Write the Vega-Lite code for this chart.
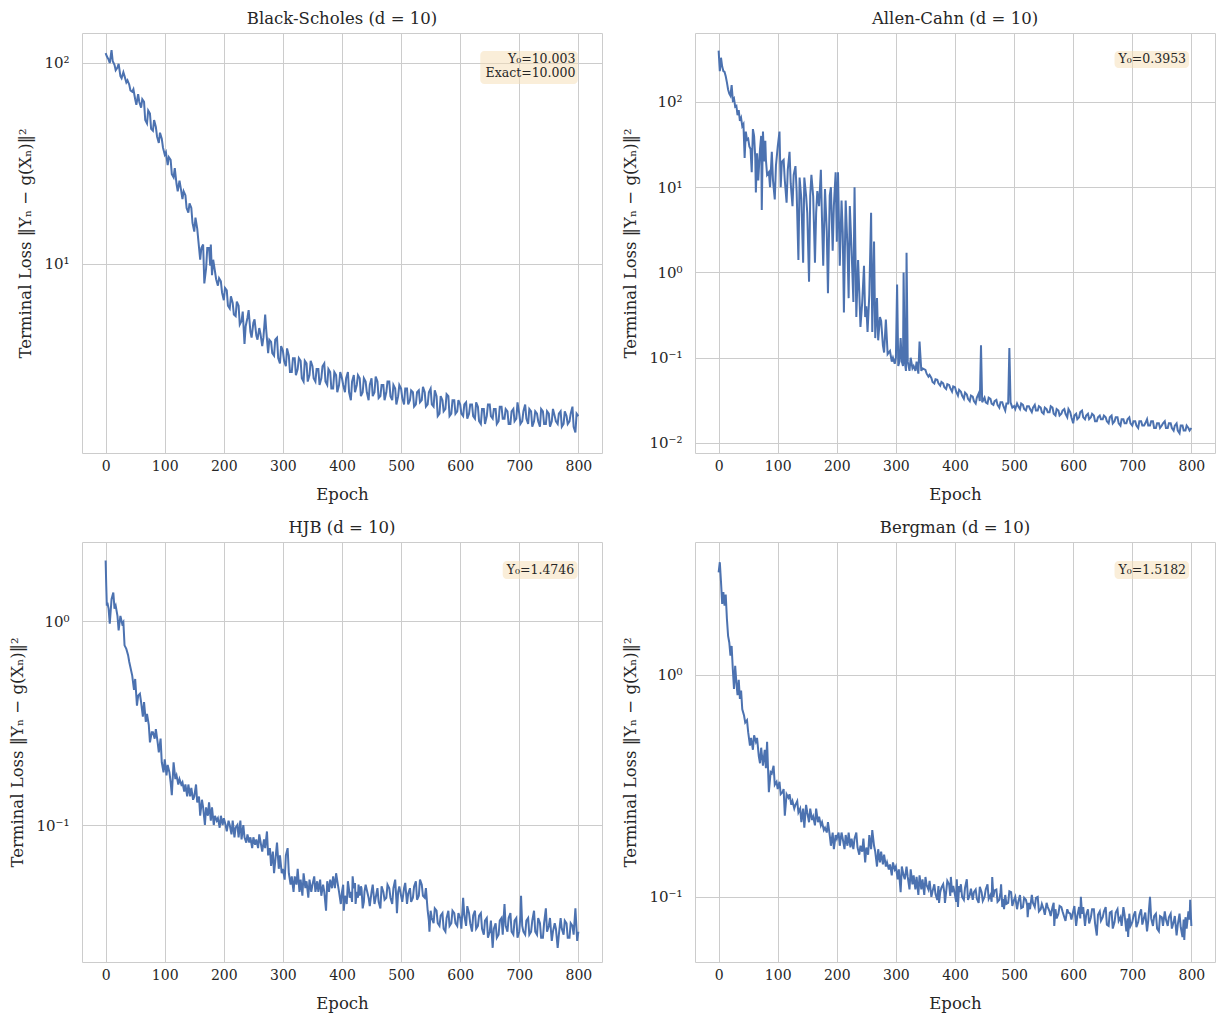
{
"$schema": "https://vega.github.io/schema/vega-lite/v6.json",
"background": "white",
"padding": {"left": 9, "top": 10, "right": 5, "bottom": 5},
"config": {
  "font": "DejaVu Serif",
  "view": {"stroke": "#cccccc", "strokeWidth": 1},
  "axis": {"domain": false, "ticks": false, "grid": true, "gridColor": "#cccccc", "gridWidth": 1, "labelFont": "DejaVu Serif", "labelFontSize": 14, "labelColor": "#262626", "titleFont": "DejaVu Serif", "titleFontSize": 16.5, "titleFontWeight": "normal", "titleColor": "#262626"},
  "axisX": {"labelPadding": 6, "titlePadding": 13},
  "axisY": {"labelPadding": 13, "titlePadding": 10, "labelFontSize": 15},
  "title": {"font": "DejaVu Serif", "fontSize": 16.5, "fontWeight": "normal", "color": "#262626", "offset": 6}
},
"spacing": {"row": 16, "column": 19},
"columns": 2,
"datasets": {
"bs": [{"e":0,"v":112},{"e":5,"v":104},{"e":10,"v":116},{"e":15,"v":98},{"e":20,"v":95},{"e":25,"v":86},{"e":30,"v":90},{"e":35,"v":80},{"e":40,"v":78},{"e":45,"v":72},{"e":50,"v":66},{"e":55,"v":70},{"e":60,"v":60},{"e":65,"v":64},{"e":70,"v":50},{"e":75,"v":56},{"e":80,"v":46},{"e":85,"v":48},{"e":90,"v":40},{"e":95,"v":42},{"e":100,"v":35},{"e":105,"v":31},{"e":110,"v":33},{"e":115,"v":27},{"e":120,"v":25},{"e":125,"v":26},{"e":130,"v":21},{"e":135,"v":22},{"e":140,"v":18},{"e":145,"v":19},{"e":150,"v":14.5},{"e":155,"v":15},{"e":160,"v":10.5},{"e":165,"v":12.5},{"e":170,"v":9.5},{"e":175,"v":12},{"e":180,"v":8.8},{"e":185,"v":9.2},{"e":190,"v":7.8},{"e":195,"v":8.2},{"e":200,"v":6.6},{"e":205,"v":7.4},{"e":210,"v":6.0},{"e":215,"v":6.4},{"e":220,"v":5.5},{"e":225,"v":6.2},{"e":230,"v":5.2},{"e":235,"v":4.0},{"e":240,"v":5.4},{"e":245,"v":4.6},{"e":250,"v":5.1},{"e":255,"v":4.4},{"e":260,"v":4.8},{"e":265,"v":3.9},{"e":270,"v":5.6},{"e":275,"v":3.6},{"e":280,"v":4.1},{"e":285,"v":3.5},{"e":290,"v":4.3},{"e":295,"v":3.2},{"e":300,"v":3.7},{"e":305,"v":3.1},{"e":310,"v":3.5},{"e":315,"v":2.9},{"e":320,"v":3.4},{"e":325,"v":3.0},{"e":330,"v":3.3},{"e":335,"v":2.6},{"e":340,"v":3.2},{"e":345,"v":2.8},{"e":350,"v":3.1},{"e":355,"v":2.6},{"e":360,"v":3.0},{"e":365,"v":2.7},{"e":370,"v":3.2},{"e":375,"v":2.5},{"e":380,"v":2.9},{"e":385,"v":2.4},{"e":390,"v":2.8},{"e":395,"v":2.5},{"e":400,"v":2.7},{"e":405,"v":2.3},{"e":410,"v":2.9},{"e":415,"v":2.1},{"e":420,"v":2.8},{"e":425,"v":2.5},{"e":430,"v":2.7},{"e":435,"v":2.3},{"e":440,"v":2.6},{"e":445,"v":2.1},{"e":450,"v":2.7},{"e":455,"v":2.3},{"e":460,"v":2.6},{"e":465,"v":2.2},{"e":470,"v":2.5},{"e":475,"v":2.3},{"e":480,"v":2.6},{"e":485,"v":2.1},{"e":490,"v":2.4},{"e":495,"v":2.2},{"e":500,"v":2.4},{"e":505,"v":2.0},{"e":510,"v":2.4},{"e":515,"v":2.1},{"e":520,"v":2.3},{"e":525,"v":2.0},{"e":530,"v":2.35},{"e":535,"v":2.1},{"e":540,"v":2.3},{"e":545,"v":2.0},{"e":550,"v":2.4},{"e":555,"v":1.95},{"e":560,"v":2.2},{"e":565,"v":1.8},{"e":570,"v":2.1},{"e":575,"v":1.9},{"e":580,"v":2.2},{"e":585,"v":1.8},{"e":590,"v":2.1},{"e":595,"v":1.85},{"e":600,"v":2.0},{"e":605,"v":1.75},{"e":610,"v":2.05},{"e":615,"v":1.8},{"e":620,"v":2.0},{"e":625,"v":1.7},{"e":630,"v":1.95},{"e":635,"v":1.6},{"e":640,"v":1.9},{"e":645,"v":1.75},{"e":650,"v":2.0},{"e":655,"v":1.7},{"e":660,"v":1.9},{"e":665,"v":1.65},{"e":670,"v":1.95},{"e":675,"v":1.7},{"e":680,"v":1.85},{"e":685,"v":1.6},{"e":690,"v":1.9},{"e":695,"v":1.7},{"e":700,"v":1.8},{"e":705,"v":1.65},{"e":710,"v":2.0},{"e":715,"v":1.6},{"e":720,"v":1.85},{"e":725,"v":1.65},{"e":730,"v":1.8},{"e":735,"v":1.55},{"e":740,"v":1.85},{"e":745,"v":1.6},{"e":750,"v":1.8},{"e":755,"v":1.65},{"e":760,"v":1.75},{"e":765,"v":1.6},{"e":770,"v":1.85},{"e":775,"v":1.6},{"e":780,"v":1.75},{"e":785,"v":1.65},{"e":790,"v":1.95},{"e":795,"v":1.45},{"e":800,"v":1.75},
{"e":2,"v":108},{"e":7,"v":100},{"e":12,"v":102},{"e":17,"v":92},{"e":22,"v":99},{"e":27,"v":84},{"e":32,"v":86},{"e":37,"v":82},{"e":42,"v":73},{"e":47,"v":74},{"e":52,"v":62},{"e":57,"v":64},{"e":62,"v":66},{"e":67,"v":52},{"e":72,"v":58},{"e":77,"v":47},{"e":82,"v":52},{"e":87,"v":43},{"e":92,"v":45},{"e":97,"v":38},{"e":102,"v":36},{"e":107,"v":34},{"e":112,"v":28},{"e":117,"v":30},{"e":122,"v":23},{"e":127,"v":24},{"e":132,"v":23},{"e":137,"v":19},{"e":142,"v":20},{"e":147,"v":16},{"e":152,"v":17},{"e":157,"v":13},{"e":162,"v":12},{"e":167,"v":8.0},{"e":172,"v":12},{"e":177,"v":9.8},{"e":178,"v":12.5},{"e":182,"v":10.5},{"e":187,"v":8.4},{"e":192,"v":8.5},{"e":197,"v":7.2},
{"e":202,"v":7.6},{"e":207,"v":6.2},{"e":212,"v":6.9},{"e":217,"v":5.6},{"e":222,"v":6.5},{"e":227,"v":5.0},{"e":232,"v":5.8},{"e":237,"v":4.9},{"e":242,"v":5.9},{"e":247,"v":4.3},{"e":252,"v":5.3},{"e":257,"v":4.2},{"e":262,"v":4.5},{"e":267,"v":4.3},{"e":272,"v":4.6},{"e":277,"v":4.2},{"e":282,"v":3.6},{"e":287,"v":4.2},{"e":292,"v":3.4},{"e":297,"v":3.9},{"e":302,"v":3.3},{"e":307,"v":3.8},{"e":312,"v":2.9},{"e":317,"v":3.4},{"e":322,"v":2.8},{"e":327,"v":3.4},{"e":332,"v":2.7},{"e":337,"v":3.3},{"e":342,"v":2.6},{"e":347,"v":3.3},{"e":352,"v":2.7},{"e":357,"v":3.0},{"e":362,"v":2.5},{"e":367,"v":3.1},{"e":372,"v":2.6},{"e":377,"v":3.0},{"e":382,"v":2.4},{"e":387,"v":2.9},{"e":392,"v":2.3},{"e":397,"v":2.9},{"e":402,"v":2.5},{"e":407,"v":2.7},{"e":412,"v":2.3},{"e":417,"v":2.6},{"e":422,"v":2.3},{"e":427,"v":2.8},{"e":432,"v":2.2},{"e":437,"v":2.7},{"e":442,"v":2.3},{"e":447,"v":2.5},{"e":452,"v":2.2},{"e":457,"v":2.75},{"e":462,"v":2.15},{"e":467,"v":2.5},{"e":472,"v":2.1},{"e":477,"v":2.6},{"e":482,"v":2.2},{"e":487,"v":2.5},{"e":492,"v":2.0},{"e":497,"v":2.5},{"e":502,"v":2.15},{"e":507,"v":2.4},{"e":512,"v":2.0},{"e":517,"v":2.35},{"e":522,"v":1.95},{"e":527,"v":2.3},{"e":532,"v":2.05},{"e":537,"v":2.45},{"e":542,"v":1.95},{"e":547,"v":2.3},{"e":552,"v":2.0},{"e":557,"v":2.35},{"e":562,"v":1.75},{"e":567,"v":2.2},{"e":572,"v":1.85},{"e":577,"v":2.25},{"e":582,"v":1.75},{"e":587,"v":2.1},{"e":592,"v":1.8},{"e":597,"v":2.1},{"e":602,"v":1.8},{"e":607,"v":2.0},{"e":612,"v":1.7},{"e":617,"v":2.0},{"e":622,"v":1.75},{"e":627,"v":2.05},{"e":632,"v":1.65},{"e":637,"v":1.9},{"e":642,"v":1.6},{"e":647,"v":2.0},{"e":652,"v":1.75},{"e":657,"v":1.9},{"e":662,"v":1.6},{"e":667,"v":1.95},{"e":672,"v":1.7},{"e":677,"v":1.9},{"e":682,"v":1.6},{"e":687,"v":1.85},{"e":692,"v":1.65},{"e":697,"v":2.05},{"e":702,"v":1.6},{"e":707,"v":1.85},{"e":712,"v":1.7},{"e":717,"v":1.9},{"e":722,"v":1.55},{"e":727,"v":1.85},{"e":732,"v":1.65},{"e":737,"v":1.9},{"e":742,"v":1.6},{"e":747,"v":1.85},{"e":752,"v":1.55},{"e":757,"v":1.9},{"e":762,"v":1.65},{"e":767,"v":1.8},{"e":772,"v":1.55},{"e":777,"v":1.85},{"e":782,"v":1.6},{"e":787,"v":1.8},{"e":792,"v":1.55},{"e":797,"v":1.8}],
"ac": [{"e":0,"v":400},{"e":2,"v":230},{"e":4,"v":330},{"e":6,"v":260},{"e":8,"v":230},{"e":10,"v":225},{"e":12,"v":200},{"e":14,"v":170},{"e":16,"v":140},{"e":18,"v":125},{"e":20,"v":118},{"e":22,"v":158},{"e":24,"v":105},{"e":26,"v":110},{"e":28,"v":88},{"e":30,"v":90},{"e":32,"v":70},{"e":34,"v":80},{"e":36,"v":60},{"e":38,"v":65},{"e":40,"v":52},{"e":42,"v":55},{"e":44,"v":22},{"e":46,"v":45},{"e":48,"v":36},{"e":50,"v":37},{"e":52,"v":30},{"e":54,"v":28},{"e":56,"v":15},{"e":58,"v":48},{"e":60,"v":40},{"e":62,"v":22},{"e":63,"v":8.7},{"e":65,"v":25},{"e":67,"v":12},{"e":70,"v":28},{"e":72,"v":40},{"e":73,"v":5.4},{"e":75,"v":45},{"e":77,"v":20},{"e":79,"v":35},{"e":80,"v":21},{"e":82,"v":14},{"e":85,"v":15},{"e":87,"v":10},{"e":90,"v":26},{"e":92,"v":12},{"e":95,"v":7.2},{"e":97,"v":18},{"e":100,"v":30},{"e":103,"v":45},{"e":105,"v":10},{"e":107,"v":20},{"e":110,"v":21},{"e":112,"v":12},{"e":115,"v":6.6},{"e":117,"v":16},{"e":120,"v":26},{"e":122,"v":11},{"e":125,"v":6},{"e":127,"v":14},{"e":130,"v":17.7},{"e":132,"v":9},{"e":135,"v":1.4},{"e":137,"v":13},{"e":140,"v":7.2},{"e":143,"v":1.3},{"e":145,"v":13},{"e":148,"v":8},{"e":150,"v":5},{"e":153,"v":0.78},{"e":155,"v":8},{"e":157,"v":14},{"e":160,"v":7.8},{"e":163,"v":1.3},{"e":165,"v":5},{"e":167,"v":9},{"e":170,"v":6},{"e":173,"v":16},{"e":175,"v":4},{"e":177,"v":1.2},{"e":180,"v":9.5},{"e":183,"v":3},{"e":185,"v":0.57},{"e":188,"v":8},{"e":190,"v":10},{"e":193,"v":1.8},{"e":195,"v":6},{"e":198,"v":15},{"e":200,"v":2.3},{"e":202,"v":15},{"e":205,"v":1.2},{"e":208,"v":7},{"e":210,"v":3},{"e":212,"v":0.34},{"e":215,"v":7},{"e":218,"v":2},{"e":220,"v":0.5},{"e":222,"v":6},{"e":225,"v":1.8},{"e":228,"v":0.45},{"e":230,"v":10},{"e":233,"v":0.3},{"e":236,"v":1.4},{"e":238,"v":0.6},{"e":240,"v":0.23},{"e":243,"v":0.45},{"e":246,"v":1.2},{"e":248,"v":0.3},{"e":250,"v":0.4},{"e":252,"v":0.2},{"e":255,"v":0.55},{"e":258,"v":5},{"e":260,"v":0.2},{"e":263,"v":2.3},{"e":265,"v":0.17},{"e":268,"v":0.5},{"e":270,"v":0.16},{"e":273,"v":0.3},{"e":275,"v":0.27},{"e":278,"v":0.14},{"e":280,"v":0.115},{"e":283,"v":0.28},{"e":286,"v":0.11},{"e":290,"v":0.12},{"e":293,"v":0.09},{"e":295,"v":0.1},{"e":298,"v":0.085},{"e":300,"v":0.1},{"e":302,"v":0.72},{"e":304,"v":0.08},{"e":306,"v":0.09},{"e":308,"v":0.17},{"e":310,"v":0.09},{"e":312,"v":0.08},{"e":313,"v":1.0},{"e":315,"v":0.09},{"e":317,"v":0.07},{"e":318,"v":1.7},{"e":320,"v":0.09},{"e":323,"v":0.07},{"e":325,"v":0.1},{"e":328,"v":0.075},{"e":330,"v":0.08},{"e":333,"v":0.07},{"e":335,"v":0.09},{"e":338,"v":0.065},{"e":340,"v":0.155},{"e":343,"v":0.07},{"e":345,"v":0.075},{"e":350,"v":0.072},{"e":355,"v":0.06},{"e":360,"v":0.058},{"e":365,"v":0.05},{"e":370,"v":0.055},{"e":375,"v":0.047},{"e":380,"v":0.05},{"e":385,"v":0.043},{"e":390,"v":0.048},{"e":395,"v":0.04},{"e":400,"v":0.045},{"e":405,"v":0.036},{"e":410,"v":0.04},{"e":415,"v":0.033},{"e":420,"v":0.037},{"e":425,"v":0.031},{"e":430,"v":0.035},{"e":435,"v":0.029},{"e":440,"v":0.038},{"e":444,"v":0.14},{"e":446,"v":0.03},{"e":450,"v":0.034},{"e":455,"v":0.029},{"e":460,"v":0.033},{"e":465,"v":0.028},{"e":470,"v":0.032},{"e":475,"v":0.026},{"e":480,"v":0.03},{"e":485,"v":0.024},{"e":490,"v":0.029},{"e":492,"v":0.13},{"e":494,"v":0.03},{"e":500,"v":0.027},{"e":505,"v":0.029},{"e":510,"v":0.025},{"e":515,"v":0.028},{"e":520,"v":0.024},{"e":525,"v":0.027},{"e":530,"v":0.023},{"e":535,"v":0.028},{"e":540,"v":0.024},{"e":545,"v":0.026},{"e":550,"v":0.022},{"e":555,"v":0.025},{"e":560,"v":0.023},{"e":565,"v":0.026},{"e":570,"v":0.021},{"e":575,"v":0.024},{"e":580,"v":0.022},{"e":585,"v":0.025},{"e":590,"v":0.02},{"e":595,"v":0.023},{"e":600,"v":0.017},{"e":605,"v":0.022},{"e":610,"v":0.02},{"e":615,"v":0.024},{"e":620,"v":0.019},{"e":625,"v":0.022},{"e":630,"v":0.02},{"e":635,"v":0.021},{"e":640,"v":0.018},{"e":645,"v":0.021},{"e":650,"v":0.019},{"e":655,"v":0.02},{"e":660,"v":0.017},{"e":665,"v":0.021},{"e":670,"v":0.018},{"e":675,"v":0.02},{"e":680,"v":0.016},{"e":685,"v":0.019},{"e":690,"v":0.017},{"e":695,"v":0.02},{"e":700,"v":0.016},{"e":705,"v":0.018},{"e":710,"v":0.015},{"e":715,"v":0.018},{"e":720,"v":0.016},{"e":725,"v":0.019},{"e":730,"v":0.016},{"e":735,"v":0.018},{"e":740,"v":0.015},{"e":745,"v":0.017},{"e":750,"v":0.016},{"e":755,"v":0.018},{"e":760,"v":0.015},{"e":765,"v":0.017},{"e":770,"v":0.014},{"e":775,"v":0.017},{"e":780,"v":0.013},{"e":785,"v":0.016},{"e":790,"v":0.014},{"e":795,"v":0.015},{"e":800,"v":0.015},
{"e":352,"v":0.065},{"e":357,"v":0.063},{"e":362,"v":0.052},{"e":367,"v":0.056},{"e":372,"v":0.05},{"e":377,"v":0.052},{"e":382,"v":0.045},{"e":387,"v":0.049},{"e":392,"v":0.044},{"e":397,"v":0.046},{"e":402,"v":0.04},{"e":407,"v":0.042},{"e":412,"v":0.036},{"e":417,"v":0.039},{"e":422,"v":0.033},{"e":427,"v":0.036},{"e":432,"v":0.031},{"e":437,"v":0.034},{"e":442,"v":0.031},{"e":452,"v":0.03},{"e":457,"v":0.034},{"e":462,"v":0.029},{"e":467,"v":0.031},{"e":472,"v":0.028},{"e":477,"v":0.03},{"e":482,"v":0.027},{"e":487,"v":0.029},{"e":497,"v":0.026},
{"e":502,"v":0.025},{"e":507,"v":0.027},{"e":512,"v":0.029},{"e":517,"v":0.025},{"e":522,"v":0.027},{"e":527,"v":0.025},{"e":532,"v":0.026},{"e":537,"v":0.024},{"e":542,"v":0.027},{"e":547,"v":0.023},{"e":552,"v":0.026},{"e":557,"v":0.023},{"e":562,"v":0.027},{"e":567,"v":0.022},{"e":572,"v":0.025},{"e":577,"v":0.021},{"e":582,"v":0.024},{"e":587,"v":0.022},{"e":592,"v":0.025},{"e":597,"v":0.02},{"e":602,"v":0.021},{"e":607,"v":0.019},{"e":612,"v":0.023},{"e":617,"v":0.02},{"e":622,"v":0.021},{"e":627,"v":0.019},{"e":632,"v":0.022},{"e":637,"v":0.018},{"e":642,"v":0.02},{"e":647,"v":0.019},{"e":652,"v":0.021},{"e":657,"v":0.018},{"e":662,"v":0.02},{"e":667,"v":0.017},{"e":672,"v":0.02},{"e":677,"v":0.017},{"e":682,"v":0.019},{"e":687,"v":0.017},{"e":692,"v":0.019},{"e":697,"v":0.017},{"e":702,"v":0.018},{"e":707,"v":0.016},{"e":712,"v":0.018},{"e":717,"v":0.016},{"e":722,"v":0.017},{"e":727,"v":0.016},{"e":732,"v":0.018},{"e":737,"v":0.015},{"e":742,"v":0.017},{"e":747,"v":0.015},{"e":752,"v":0.017},{"e":757,"v":0.015},{"e":762,"v":0.017},{"e":767,"v":0.015},{"e":772,"v":0.016},{"e":777,"v":0.014},{"e":782,"v":0.016},{"e":787,"v":0.014},{"e":792,"v":0.016},{"e":797,"v":0.014}],
"hjb": [{"e":0,"v":1.98},{"e":1,"v":1.5},{"e":2,"v":1.19},{"e":3,"v":1.23},{"e":5,"v":1.15},{"e":7,"v":0.97},{"e":10,"v":1.28},{"e":13,"v":1.38},{"e":15,"v":1.15},{"e":17,"v":1.19},{"e":20,"v":1.06},{"e":22,"v":0.9},{"e":25,"v":1.06},{"e":28,"v":0.97},{"e":30,"v":0.99},{"e":32,"v":0.76},{"e":35,"v":0.73},{"e":38,"v":0.68},{"e":40,"v":0.63},{"e":45,"v":0.54},{"e":48,"v":0.46},{"e":50,"v":0.52},{"e":53,"v":0.385},{"e":55,"v":0.43},{"e":58,"v":0.44},{"e":60,"v":0.40},{"e":63,"v":0.34},{"e":65,"v":0.40},{"e":68,"v":0.32},{"e":70,"v":0.35},{"e":73,"v":0.31},{"e":75,"v":0.254},{"e":78,"v":0.285},{"e":80,"v":0.285},{"e":83,"v":0.265},{"e":85,"v":0.295},{"e":88,"v":0.254},{"e":90,"v":0.227},{"e":93,"v":0.265},{"e":95,"v":0.203},{"e":98,"v":0.181},{"e":100,"v":0.21},{"e":103,"v":0.175},{"e":105,"v":0.197},{"e":108,"v":0.181},{"e":110,"v":0.162},{"e":112,"v":0.14},{"e":115,"v":0.203},{"e":118,"v":0.168},{"e":120,"v":0.175},{"e":123,"v":0.158},{"e":125,"v":0.168},{"e":128,"v":0.158},{"e":130,"v":0.162},{"e":133,"v":0.146},{"e":135,"v":0.158},{"e":138,"v":0.138},{"e":140,"v":0.158},{"e":143,"v":0.138},{"e":145,"v":0.152},{"e":148,"v":0.133},{"e":150,"v":0.138},{"e":153,"v":0.158},{"e":155,"v":0.129},{"e":158,"v":0.138},{"e":160,"v":0.111},{"e":163,"v":0.133},{"e":165,"v":0.122},{"e":168,"v":0.1},{"e":170,"v":0.122},{"e":173,"v":0.111},{"e":175,"v":0.129},{"e":178,"v":0.105},{"e":180,"v":0.122},{"e":183,"v":0.1},{"e":185,"v":0.111},{"e":188,"v":0.105},{"e":190,"v":0.108},{"e":193,"v":0.097},{"e":195,"v":0.111},{"e":198,"v":0.1},{"e":200,"v":0.108},{"e":203,"v":0.1},{"e":205,"v":0.093},{"e":208,"v":0.105},{"e":210,"v":0.1},{"e":213,"v":0.09},{"e":215,"v":0.105},{"e":218,"v":0.087},{"e":220,"v":0.097},{"e":223,"v":0.1},{"e":225,"v":0.087},{"e":228,"v":0.105},{"e":230,"v":0.085},{"e":233,"v":0.1},{"e":235,"v":0.087},{"e":238,"v":0.082},{"e":240,"v":0.09},{"e":243,"v":0.082},{"e":245,"v":0.087},{"e":248,"v":0.077},{"e":250,"v":0.087},{"e":253,"v":0.08},{"e":255,"v":0.085},{"e":258,"v":0.077},{"e":260,"v":0.09},{"e":263,"v":0.08},{"e":265,"v":0.074},{"e":268,"v":0.085},{"e":270,"v":0.077},{"e":273,"v":0.093},{"e":275,"v":0.071},{"e":278,"v":0.077},{"e":280,"v":0.063},{"e":283,"v":0.074},{"e":285,"v":0.058},{"e":288,"v":0.071},{"e":290,"v":0.082},{"e":293,"v":0.061},{"e":295,"v":0.071},{"e":298,"v":0.058},{"e":300,"v":0.061},{"e":303,"v":0.054},{"e":305,"v":0.071},{"e":308,"v":0.077},{"e":310,"v":0.058},{"e":313,"v":0.051},{"e":315,"v":0.056},{"e":318,"v":0.047},{"e":320,"v":0.056},{"e":323,"v":0.051},{"e":325,"v":0.061},{"e":328,"v":0.047},{"e":330,"v":0.054},{"e":333,"v":0.045},{"e":335,"v":0.058},{"e":338,"v":0.049},{"e":340,"v":0.053},{"e":343,"v":0.044},{"e":345,"v":0.054},{"e":348,"v":0.047},{"e":350,"v":0.051},{"e":353,"v":0.056},{"e":355,"v":0.047},{"e":358,"v":0.053},{"e":360,"v":0.047},{"e":363,"v":0.054},{"e":365,"v":0.045},{"e":368,"v":0.051},{"e":370,"v":0.047},{"e":373,"v":0.038},{"e":375,"v":0.053},{"e":378,"v":0.047},{"e":380,"v":0.054},{"e":383,"v":0.049},{"e":385,"v":0.056},{"e":388,"v":0.049},{"e":390,"v":0.058},{"e":393,"v":0.051},{"e":395,"v":0.047},{"e":398,"v":0.041},{"e":400,"v":0.047},{"e":403,"v":0.038},{"e":405,"v":0.045},{"e":408,"v":0.041},{"e":410,"v":0.053},{"e":413,"v":0.044},{"e":415,"v":0.047},{"e":418,"v":0.056},{"e":420,"v":0.049},{"e":423,"v":0.041},{"e":425,"v":0.047},{"e":428,"v":0.051},{"e":430,"v":0.045},{"e":433,"v":0.049},{"e":435,"v":0.039},{"e":438,"v":0.047},{"e":440,"v":0.051},{"e":445,"v":0.044},{"e":450,"v":0.047},{"e":455,"v":0.041},{"e":460,"v":0.049},{"e":465,"v":0.039},{"e":470,"v":0.047},{"e":475,"v":0.044},{"e":480,"v":0.049},{"e":485,"v":0.041},{"e":490,"v":0.054},{"e":493,"v":0.037},{"e":495,"v":0.047},{"e":500,"v":0.045},{"e":505,"v":0.049},{"e":510,"v":0.041},{"e":515,"v":0.049},{"e":520,"v":0.044},{"e":525,"v":0.053},{"e":530,"v":0.045},{"e":535,"v":0.051},{"e":540,"v":0.044},{"e":545,"v":0.038},{"e":548,"v":0.03},{"e":550,"v":0.038},{"e":555,"v":0.033},{"e":560,"v":0.038},{"e":565,"v":0.032},{"e":570,"v":0.037},{"e":575,"v":0.03},{"e":580,"v":0.038},{"e":585,"v":0.033},{"e":590,"v":0.037},{"e":595,"v":0.032},{"e":600,"v":0.035},{"e":605,"v":0.044},{"e":610,"v":0.032},{"e":615,"v":0.037},{"e":620,"v":0.03},{"e":625,"v":0.038},{"e":630,"v":0.032},{"e":635,"v":0.037},{"e":640,"v":0.029},{"e":645,"v":0.035},{"e":650,"v":0.03},{"e":655,"v":0.025},{"e":660,"v":0.033},{"e":665,"v":0.029},{"e":670,"v":0.035},{"e":675,"v":0.041},{"e":680,"v":0.03},{"e":685,"v":0.037},{"e":690,"v":0.029},{"e":695,"v":0.035},{"e":700,"v":0.03},{"e":703,"v":0.045},{"e":705,"v":0.032},{"e":710,"v":0.029},{"e":715,"v":0.035},{"e":720,"v":0.03},{"e":725,"v":0.038},{"e":730,"v":0.029},{"e":735,"v":0.033},{"e":740,"v":0.028},{"e":745,"v":0.039},{"e":750,"v":0.032},{"e":755,"v":0.027},{"e":760,"v":0.033},{"e":765,"v":0.025},{"e":770,"v":0.035},{"e":775,"v":0.029},{"e":780,"v":0.033},{"e":785,"v":0.028},{"e":790,"v":0.032},{"e":795,"v":0.039},{"e":798,"v":0.027},{"e":800,"v":0.03},
{"e":402,"v":0.051},{"e":407,"v":0.043},{"e":412,"v":0.048},{"e":417,"v":0.042},{"e":422,"v":0.052},{"e":427,"v":0.044},{"e":432,"v":0.05},{"e":437,"v":0.042},{"e":442,"v":0.048},{"e":447,"v":0.04},{"e":452,"v":0.051},{"e":457,"v":0.044},{"e":462,"v":0.042},{"e":467,"v":0.05},{"e":472,"v":0.043},{"e":477,"v":0.051},{"e":482,"v":0.044},{"e":487,"v":0.049},{"e":492,"v":0.043},{"e":497,"v":0.05},{"e":502,"v":0.042},{"e":507,"v":0.052},{"e":512,"v":0.046},{"e":517,"v":0.042},{"e":522,"v":0.05},{"e":527,"v":0.043},{"e":532,"v":0.054},{"e":537,"v":0.045},{"e":542,"v":0.049},{"e":547,"v":0.034},{"e":552,"v":0.035},{"e":557,"v":0.039},{"e":562,"v":0.033},{"e":567,"v":0.036},{"e":572,"v":0.031},{"e":577,"v":0.035},{"e":582,"v":0.032},{"e":587,"v":0.038},{"e":592,"v":0.033},{"e":597,"v":0.037},{"e":602,"v":0.031},{"e":607,"v":0.036},{"e":612,"v":0.04},{"e":617,"v":0.033},{"e":622,"v":0.036},{"e":627,"v":0.031},{"e":632,"v":0.036},{"e":637,"v":0.031},{"e":642,"v":0.034},{"e":647,"v":0.028},{"e":652,"v":0.034},{"e":657,"v":0.031},{"e":662,"v":0.028},{"e":667,"v":0.034},{"e":672,"v":0.029},{"e":677,"v":0.032},{"e":682,"v":0.035},{"e":687,"v":0.03},{"e":692,"v":0.034},{"e":697,"v":0.028},{"e":702,"v":0.036},{"e":707,"v":0.03},{"e":712,"v":0.034},{"e":717,"v":0.029},{"e":722,"v":0.034},{"e":727,"v":0.03},{"e":732,"v":0.035},{"e":737,"v":0.028},{"e":742,"v":0.033},{"e":747,"v":0.03},{"e":752,"v":0.035},{"e":757,"v":0.03},{"e":762,"v":0.031},{"e":767,"v":0.029},{"e":772,"v":0.031},{"e":777,"v":0.034},{"e":782,"v":0.028},{"e":787,"v":0.033},{"e":792,"v":0.029}],
"bg": [{"e":0,"v":2.9},{"e":2,"v":3.22},{"e":4,"v":2.63},{"e":6,"v":2.09},{"e":8,"v":2.36},{"e":10,"v":2.05},{"e":12,"v":2.3},{"e":14,"v":1.79},{"e":16,"v":1.5},{"e":18,"v":1.4},{"e":20,"v":1.22},{"e":22,"v":1.35},{"e":24,"v":1.06},{"e":26,"v":0.865},{"e":28,"v":1.1},{"e":30,"v":0.927},{"e":32,"v":0.81},{"e":34,"v":0.95},{"e":36,"v":0.78},{"e":38,"v":0.85},{"e":40,"v":0.70},{"e":43,"v":0.656},{"e":45,"v":0.61},{"e":48,"v":0.625},{"e":50,"v":0.552},{"e":53,"v":0.48},{"e":55,"v":0.52},{"e":58,"v":0.46},{"e":60,"v":0.535},{"e":63,"v":0.5},{"e":65,"v":0.52},{"e":68,"v":0.43},{"e":70,"v":0.4},{"e":72,"v":0.47},{"e":75,"v":0.39},{"e":78,"v":0.46},{"e":80,"v":0.38},{"e":82,"v":0.5},{"e":85,"v":0.296},{"e":88,"v":0.365},{"e":90,"v":0.36},{"e":93,"v":0.39},{"e":95,"v":0.32},{"e":98,"v":0.33},{"e":100,"v":0.306},{"e":103,"v":0.33},{"e":105,"v":0.29},{"e":108,"v":0.296},{"e":110,"v":0.306},{"e":112,"v":0.232},{"e":115,"v":0.29},{"e":118,"v":0.28},{"e":120,"v":0.29},{"e":123,"v":0.26},{"e":125,"v":0.27},{"e":128,"v":0.25},{"e":130,"v":0.26},{"e":133,"v":0.27},{"e":135,"v":0.24},{"e":138,"v":0.25},{"e":140,"v":0.217},{"e":143,"v":0.25},{"e":145,"v":0.205},{"e":148,"v":0.26},{"e":150,"v":0.24},{"e":153,"v":0.217},{"e":155,"v":0.25},{"e":158,"v":0.222},{"e":160,"v":0.23},{"e":163,"v":0.21},{"e":165,"v":0.25},{"e":168,"v":0.217},{"e":170,"v":0.23},{"e":173,"v":0.21},{"e":175,"v":0.217},{"e":178,"v":0.2},{"e":180,"v":0.205},{"e":183,"v":0.195},{"e":185,"v":0.217},{"e":188,"v":0.19},{"e":190,"v":0.17},{"e":193,"v":0.195},{"e":195,"v":0.164},{"e":198,"v":0.19},{"e":200,"v":0.183},{"e":203,"v":0.195},{"e":205,"v":0.17},{"e":208,"v":0.195},{"e":210,"v":0.183},{"e":213,"v":0.164},{"e":215,"v":0.19},{"e":218,"v":0.17},{"e":220,"v":0.195},{"e":223,"v":0.167},{"e":225,"v":0.183},{"e":228,"v":0.164},{"e":230,"v":0.183},{"e":233,"v":0.195},{"e":235,"v":0.167},{"e":238,"v":0.155},{"e":240,"v":0.17},{"e":243,"v":0.16},{"e":245,"v":0.183},{"e":248,"v":0.143},{"e":250,"v":0.167},{"e":253,"v":0.155},{"e":255,"v":0.19},{"e":258,"v":0.164},{"e":260,"v":0.2},{"e":263,"v":0.17},{"e":265,"v":0.16},{"e":268,"v":0.137},{"e":270,"v":0.164},{"e":273,"v":0.143},{"e":275,"v":0.16},{"e":278,"v":0.14},{"e":280,"v":0.155},{"e":283,"v":0.137},{"e":285,"v":0.143},{"e":288,"v":0.133},{"e":290,"v":0.14},{"e":293,"v":0.125},{"e":295,"v":0.143},{"e":298,"v":0.133},{"e":300,"v":0.137},{"e":303,"v":0.12},{"e":305,"v":0.133},{"e":308,"v":0.105},{"e":310,"v":0.137},{"e":313,"v":0.125},{"e":315,"v":0.12},{"e":318,"v":0.137},{"e":320,"v":0.123},{"e":323,"v":0.108},{"e":325,"v":0.133},{"e":328,"v":0.114},{"e":330,"v":0.125},{"e":333,"v":0.108},{"e":335,"v":0.123},{"e":338,"v":0.102},{"e":340,"v":0.125},{"e":343,"v":0.108},{"e":345,"v":0.12},{"e":348,"v":0.102},{"e":350,"v":0.123},{"e":355,"v":0.108},{"e":360,"v":0.1},{"e":365,"v":0.114},{"e":370,"v":0.097},{"e":373,"v":0.094},{"e":375,"v":0.105},{"e":380,"v":0.114},{"e":383,"v":0.094},{"e":385,"v":0.105},{"e":390,"v":0.114},{"e":393,"v":0.123},{"e":395,"v":0.105},{"e":400,"v":0.102},{"e":403,"v":0.12},{"e":405,"v":0.09},{"e":408,"v":0.105},{"e":410,"v":0.114},{"e":415,"v":0.097},{"e":420,"v":0.12},{"e":425,"v":0.102},{"e":430,"v":0.097},{"e":435,"v":0.108},{"e":440,"v":0.094},{"e":445,"v":0.105},{"e":450,"v":0.1},{"e":455,"v":0.114},{"e":460,"v":0.102},{"e":463,"v":0.123},{"e":465,"v":0.1},{"e":470,"v":0.108},{"e":475,"v":0.097},{"e":478,"v":0.114},{"e":480,"v":0.09},{"e":483,"v":0.088},{"e":485,"v":0.102},{"e":490,"v":0.094},{"e":495,"v":0.105},{"e":500,"v":0.097},{"e":505,"v":0.088},{"e":510,"v":0.102},{"e":515,"v":0.09},{"e":520,"v":0.097},{"e":523,"v":0.081},{"e":525,"v":0.094},{"e":530,"v":0.102},{"e":535,"v":0.09},{"e":540,"v":0.1},{"e":545,"v":0.088},{"e":550,"v":0.088},{"e":555,"v":0.094},{"e":560,"v":0.086},{"e":565,"v":0.09},{"e":568,"v":0.074},{"e":570,"v":0.088},{"e":575,"v":0.084},{"e":580,"v":0.09},{"e":585,"v":0.081},{"e":590,"v":0.088},{"e":595,"v":0.084},{"e":600,"v":0.086},{"e":605,"v":0.074},{"e":610,"v":0.09},{"e":613,"v":0.1},{"e":615,"v":0.084},{"e":620,"v":0.074},{"e":625,"v":0.088},{"e":630,"v":0.081},{"e":635,"v":0.088},{"e":640,"v":0.067},{"e":645,"v":0.086},{"e":650,"v":0.081},{"e":655,"v":0.09},{"e":660,"v":0.074},{"e":665,"v":0.086},{"e":670,"v":0.077},{"e":675,"v":0.088},{"e":680,"v":0.081},{"e":685,"v":0.09},{"e":690,"v":0.07},{"e":693,"v":0.066},{"e":695,"v":0.084},{"e":700,"v":0.077},{"e":705,"v":0.086},{"e":710,"v":0.077},{"e":715,"v":0.088},{"e":720,"v":0.081},{"e":725,"v":0.07},{"e":728,"v":0.086},{"e":730,"v":0.1},{"e":735,"v":0.074},{"e":740,"v":0.084},{"e":745,"v":0.07},{"e":750,"v":0.081},{"e":755,"v":0.086},{"e":760,"v":0.074},{"e":765,"v":0.084},{"e":770,"v":0.077},{"e":775,"v":0.067},{"e":780,"v":0.084},{"e":785,"v":0.066},{"e":788,"v":0.064},{"e":790,"v":0.081},{"e":795,"v":0.086},{"e":798,"v":0.097},{"e":800,"v":0.074},
{"e":352,"v":0.113},{"e":357,"v":0.118},{"e":362,"v":0.106},{"e":367,"v":0.103},{"e":372,"v":0.112},{"e":377,"v":0.11},{"e":382,"v":0.104},{"e":387,"v":0.118},{"e":392,"v":0.101},{"e":397,"v":0.112},{"e":402,"v":0.095},{"e":407,"v":0.112},{"e":412,"v":0.1},{"e":417,"v":0.11},{"e":422,"v":0.097},{"e":427,"v":0.109},{"e":432,"v":0.105},{"e":437,"v":0.098},{"e":442,"v":0.111},{"e":447,"v":0.096},{"e":452,"v":0.108},{"e":457,"v":0.098},{"e":462,"v":0.095},{"e":467,"v":0.107},{"e":472,"v":0.095},{"e":477,"v":0.105},{"e":482,"v":0.098},{"e":487,"v":0.093},{"e":492,"v":0.106},{"e":497,"v":0.091},{"e":502,"v":0.1},{"e":507,"v":0.095},{"e":512,"v":0.089},{"e":517,"v":0.099},{"e":522,"v":0.092},{"e":527,"v":0.088},{"e":532,"v":0.094},{"e":537,"v":0.099},{"e":542,"v":0.086},{"e":547,"v":0.093},{"e":552,"v":0.083},{"e":557,"v":0.09},{"e":562,"v":0.082},{"e":567,"v":0.094},{"e":572,"v":0.08},{"e":577,"v":0.091},{"e":582,"v":0.086},{"e":587,"v":0.078},{"e":592,"v":0.085},{"e":597,"v":0.079},{"e":602,"v":0.091},{"e":607,"v":0.082},{"e":612,"v":0.08},{"e":617,"v":0.09},{"e":622,"v":0.083},{"e":627,"v":0.076},{"e":632,"v":0.088},{"e":637,"v":0.076},{"e":642,"v":0.083},{"e":647,"v":0.078},{"e":652,"v":0.086},{"e":657,"v":0.075},{"e":662,"v":0.085},{"e":667,"v":0.072},{"e":672,"v":0.085},{"e":677,"v":0.078},{"e":682,"v":0.074},{"e":687,"v":0.083},{"e":692,"v":0.08},{"e":697,"v":0.074},{"e":702,"v":0.082},{"e":707,"v":0.073},{"e":712,"v":0.083},{"e":717,"v":0.075},{"e":722,"v":0.085},{"e":727,"v":0.078},{"e":732,"v":0.08},{"e":737,"v":0.082},{"e":742,"v":0.072},{"e":747,"v":0.082},{"e":752,"v":0.074},{"e":757,"v":0.079},{"e":762,"v":0.081},{"e":767,"v":0.072},{"e":772,"v":0.082},{"e":777,"v":0.075},{"e":782,"v":0.073},{"e":787,"v":0.079},{"e":792,"v":0.072},{"e":797,"v":0.079}]
},
"concat": [
{
 "width": 520, "height": 420,
 "title": "Black-Scholes (d = 10)",
 "layer": [
  {"data": {"name": "bs"},
   "mark": {"type": "line", "color": "#4c72b0", "strokeWidth": 2, "clip": true},
   "encoding": {
    "x": {"field": "e", "type": "quantitative", "scale": {"domain": [-40, 840], "nice": false, "zero": false}, "axis": {"values": [0,100,200,300,400,500,600,700,800], "title": "Epoch"}},
    "y": {"field": "v", "type": "quantitative", "scale": {"type": "log", "domain": [1.147, 141], "nice": false}, "axis": {"values": [10, 100], "labelExpr": "datum.value > 50 ? '10²' : datum.value > 5 ? '10¹' : datum.value > 0.5 ? '10⁰' : datum.value > 0.05 ? '10⁻¹' : '10⁻²'", "title": "Terminal Loss ‖Yₙ − g(Xₙ)‖²"}},
    "order": {"field": "e", "type": "quantitative"}
   }},
  {"data": {"values": [{}]},
   "mark": {"type": "rect", "fill": "#f5deb3", "opacity": 0.5, "cornerRadius": 4},
   "encoding": {"x": {"datum": 634}, "x2": {"datum": 799}, "y": {"datum": 114.7}, "y2": {"datum": 78.6}}},
  {"data": {"values": [{}]},
   "mark": {"type": "text", "align": "right", "baseline": "middle", "fontSize": 12.5, "color": "#262626"},
   "encoding": {"x": {"datum": 795}, "y": {"datum": 104.7}, "text": {"value": "Y₀=10.003"}}},
  {"data": {"values": [{}]},
   "mark": {"type": "text", "align": "right", "baseline": "middle", "fontSize": 12.5, "color": "#262626"},
   "encoding": {"x": {"datum": 795}, "y": {"datum": 89.1}, "text": {"value": "Exact=10.000"}}}
 ]
},
{
 "width": 520, "height": 420,
 "title": "Allen-Cahn (d = 10)",
 "layer": [
  {"data": {"name": "ac"},
   "mark": {"type": "line", "color": "#4c72b0", "strokeWidth": 2, "clip": true},
   "encoding": {
    "x": {"field": "e", "type": "quantitative", "scale": {"domain": [-40, 840], "nice": false, "zero": false}, "axis": {"values": [0,100,200,300,400,500,600,700,800], "title": "Epoch"}},
    "y": {"field": "v", "type": "quantitative", "scale": {"type": "log", "domain": [0.00763, 644], "nice": false}, "axis": {"values": [0.01, 0.1, 1, 10, 100], "labelExpr": "datum.value > 50 ? '10²' : datum.value > 5 ? '10¹' : datum.value > 0.5 ? '10⁰' : datum.value > 0.05 ? '10⁻¹' : '10⁻²'", "title": "Terminal Loss ‖Yₙ − g(Xₙ)‖²"}},
    "order": {"field": "e", "type": "quantitative"}
   }},
  {"data": {"values": [{}]},
   "mark": {"type": "rect", "fill": "#f5deb3", "opacity": 0.5, "cornerRadius": 4},
   "encoding": {"x": {"datum": 670}, "x2": {"datum": 796}, "y": {"datum": 396}, "y2": {"datum": 251}}},
  {"data": {"values": [{}]},
   "mark": {"type": "text", "align": "right", "baseline": "middle", "fontSize": 12.5, "color": "#262626"},
   "encoding": {"x": {"datum": 791}, "y": {"datum": 315}, "text": {"value": "Y₀=0.3953"}}}
 ]
},
{
 "width": 520, "height": 420,
 "title": "HJB (d = 10)",
 "layer": [
  {"data": {"name": "hjb"},
   "mark": {"type": "line", "color": "#4c72b0", "strokeWidth": 2, "clip": true},
   "encoding": {
    "x": {"field": "e", "type": "quantitative", "scale": {"domain": [-40, 840], "nice": false, "zero": false}, "axis": {"values": [0,100,200,300,400,500,600,700,800], "title": "Epoch"}},
    "y": {"field": "v", "type": "quantitative", "scale": {"type": "log", "domain": [0.0213, 2.44], "nice": false}, "axis": {"values": [0.1, 1], "labelExpr": "datum.value > 50 ? '10²' : datum.value > 5 ? '10¹' : datum.value > 0.5 ? '10⁰' : datum.value > 0.05 ? '10⁻¹' : '10⁻²'", "title": "Terminal Loss ‖Yₙ − g(Xₙ)‖²"}},
    "order": {"field": "e", "type": "quantitative"}
   }},
  {"data": {"values": [{}]},
   "mark": {"type": "rect", "fill": "#f5deb3", "opacity": 0.5, "cornerRadius": 4},
   "encoding": {"x": {"datum": 672}, "x2": {"datum": 798.6}, "y": {"datum": 1.968}, "y2": {"datum": 1.607}}},
  {"data": {"values": [{}]},
   "mark": {"type": "text", "align": "right", "baseline": "middle", "fontSize": 12.5, "color": "#262626"},
   "encoding": {"x": {"datum": 793}, "y": {"datum": 1.778}, "text": {"value": "Y₀=1.4746"}}}
 ]
},
{
 "width": 520, "height": 420,
 "title": "Bergman (d = 10)",
 "layer": [
  {"data": {"name": "bg"},
   "mark": {"type": "line", "color": "#4c72b0", "strokeWidth": 2, "clip": true},
   "encoding": {
    "x": {"field": "e", "type": "quantitative", "scale": {"domain": [-40, 840], "nice": false, "zero": false}, "axis": {"values": [0,100,200,300,400,500,600,700,800], "title": "Epoch"}},
    "y": {"field": "v", "type": "quantitative", "scale": {"type": "log", "domain": [0.0509, 3.97], "nice": false}, "axis": {"values": [0.1, 1], "labelExpr": "datum.value > 50 ? '10²' : datum.value > 5 ? '10¹' : datum.value > 0.5 ? '10⁰' : datum.value > 0.05 ? '10⁻¹' : '10⁻²'", "title": "Terminal Loss ‖Yₙ − g(Xₙ)‖²"}},
    "order": {"field": "e", "type": "quantitative"}
   }},
  {"data": {"values": [{}]},
   "mark": {"type": "rect", "fill": "#f5deb3", "opacity": 0.5, "cornerRadius": 4},
   "encoding": {"x": {"datum": 670}, "x2": {"datum": 796}, "y": {"datum": 3.263}, "y2": {"datum": 2.707}}},
  {"data": {"values": [{}]},
   "mark": {"type": "text", "align": "right", "baseline": "middle", "fontSize": 12.5, "color": "#262626"},
   "encoding": {"x": {"datum": 791}, "y": {"datum": 2.972}, "text": {"value": "Y₀=1.5182"}}}
 ]
}
]
}
